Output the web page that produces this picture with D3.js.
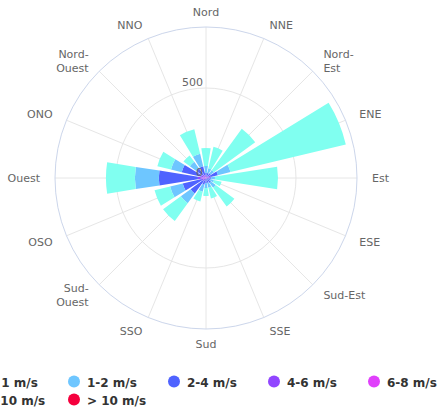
<!DOCTYPE html>
<html><head><meta charset="utf-8">
<script src="https://cdn.jsdelivr.net/npm/d3@7"></script>
<style>body{margin:0;background:#fff;} svg{display:block;font-family:"DejaVu Sans",sans-serif;}</style>
</head><body><svg id="c" width="443" height="414"></svg>
<script>
const directions = ["Nord","NNE","Nord-Est","ENE","Est","ESE","Sud-Est","SSE","Sud","SSO","Sud-Ouest","OSO","Ouest","ONO","Nord-Ouest","NNO"];
const seriesNames = ["< 1 m/s","1-2 m/s","2-4 m/s","4-6 m/s","6-8 m/s","8-10 m/s","> 10 m/s"];
const seriesColors = ["#80fff0","#6ec6ff","#4f63ff","#9146ff","#e040fb","#fb2d8f","#f5003d"];
// values per direction (Nord ... NNO)
const speedLt1  = [100,122,283,659,350,44,128,61,44,56,122,89,161,78,44,139];
const speed1to2 = [39,28,22,72,22,22,33,28,28,39,67,72,133,61,44,72];
const speed2to4 = [11,22,22,42,11,17,28,22,22,33,86,108,217,111,44,50];
const speed4to6 = [11,6,11,17,11,6,6,6,6,6,17,22,33,22,17,11];
const speed6to8 = [6,0,0,6,6,0,0,0,0,0,3,3,8,6,6,6];
const speed8to10= [0,0,0,3,0,0,0,0,0,0,0,0,2,0,0,0];
const speedGt10 = [0,0,0,0,0,0,0,0,0,0,0,0,2,0,0,0];
const yTicks = [0, 500];
const yMax = 839;

const seriesValues = [speedLt1, speed1to2, speed2to4, speed4to6, speed6to8, speed8to10, speedGt10];
const rows = directions.map((d, i) => {
  const o = {dir: d};
  seriesNames.forEach((s, k) => o[s] = seriesValues[k][i]);
  return o;
});

const svg = d3.select("#c");
const cx = 206, cy = 178, R = 151;
const g = svg.append("g").attr("transform", `translate(${cx},${cy})`);
const r = d3.scaleLinear().domain([0, yMax]).range([0, R]);
const step = 360 / directions.length;
const ang = d3.scaleBand().domain(directions).range([0, 360]);
const angleOf = d => ang(d); // tick at start of band => 'on' placement
const rad = a => a * Math.PI / 180;

// spokes
g.selectAll("line.spoke").data(directions).join("line")
  .attr("x1", 0).attr("y1", 0)
  .attr("x2", d => R * Math.sin(rad(angleOf(d))))
  .attr("y2", d => -R * Math.cos(rad(angleOf(d))))
  .attr("stroke", "#e6e6e6").attr("stroke-width", 1);
// radial grid circles
g.selectAll("circle.grid").data(yTicks.filter(t => t > 0)).join("circle")
  .attr("r", d => r(d)).attr("fill", "none").attr("stroke", "#e6e6e6");

// bars
const stackKeys = seriesNames.slice().reverse();
const stacked = d3.stack().keys(stackKeys)(rows);
const half = step * 0.8 / 2;
const arc = d3.arc();
stacked.forEach(layer => {
  const color = seriesColors[seriesNames.indexOf(layer.key)];
  g.append("g").selectAll("path").data(layer).join("path")
    .attr("d", d => {
      const a = angleOf(d.data.dir);
      return arc({innerRadius: r(d[0]), outerRadius: r(d[1]),
        startAngle: rad(a - half), endAngle: rad(a + half)});
    })
    .attr("fill", color);
});

// outer circle
g.append("circle").attr("r", R).attr("fill", "none").attr("stroke", "#ccd6eb");

// y labels
g.selectAll("text.ylab").data(yTicks).join("text")
  .attr("x", -3).attr("y", d => -r(d) - 2)
  .attr("text-anchor", "end").attr("font-size", 11).attr("fill", "#666")
  .text(d => d);

// x labels
const lr = R + 15;
directions.forEach(d => {
  const a = angleOf(d);
  const x = lr * Math.sin(rad(a)), y = -lr * Math.cos(rad(a));
  let anchor = "middle";
  if (a > 20 && a < 160) anchor = "start";
  else if (a > 200 && a < 340) anchor = "end";
  const t = g.append("text").attr("font-size", 11).attr("fill", "#666")
    .attr("text-anchor", anchor).attr("x", x).attr("y", y + 4).text(d);
  let lines = [d];
  if (t.node().getComputedTextLength() > 44 && d.includes("-")) {
    const i = d.indexOf("-");
    lines = [d.slice(0, i + 1), d.slice(i + 1)];
  }
  t.text(null);
  const y0 = y + 4 - (lines.length - 1) * 7;
  lines.forEach((ln, k) => t.append("tspan").attr("x", x).attr("y", y0 + k * 14).text(ln));
});

// legend
const lg = svg.append("g");
seriesNames.forEach((s, i) => {
  const col = i % 5, row = Math.floor(i / 5);
  const sx = -26 + col * 100, sy = 381.5 + row * 18;
  lg.append("circle").attr("cx", sx).attr("cy", sy).attr("r", 6).attr("fill", seriesColors[i]);
  lg.append("text").attr("x", sx + 13).attr("y", sy + 5).attr("font-size", 12)
    .attr("font-weight", "bold").attr("fill", "#333").text(s);
});
</script></body></html>
